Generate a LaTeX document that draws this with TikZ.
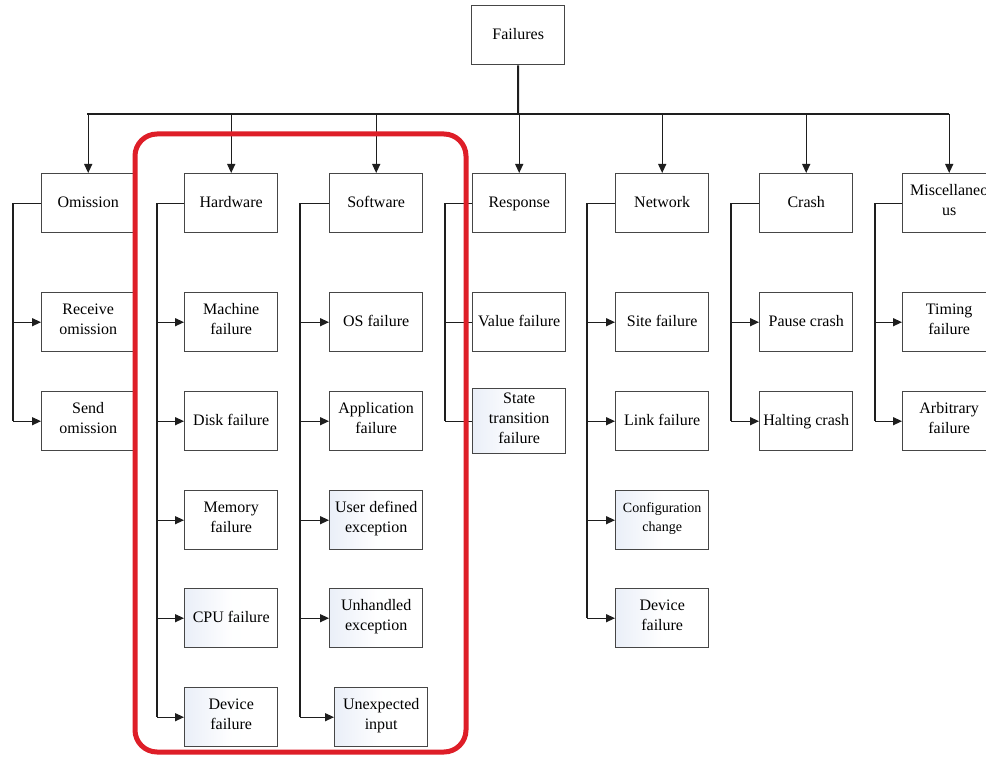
\documentclass[tikz,border=0pt]{standalone}
\usepackage{fontspec}
\setmainfont{Liberation Serif}
\usetikzlibrary{arrows.meta}
\definecolor{boxline}{RGB}{70,70,70}
\definecolor{lineclr}{RGB}{30,30,30}
\definecolor{shadeclr}{RGB}{234,239,248}
\definecolor{redbox}{RGB}{222,30,40}
\tikzset{
  fbox/.style={draw=boxline, line width=1.4pt, fill=white, minimum width=93pt, minimum height=59pt,
     inner sep=1pt, align=center, font=\fontsize{16}{20}\selectfont, anchor=north west,
     execute at begin node=\strut, execute at end node=\strut},
  sbox/.style={fbox, left color=shadeclr, right color=white, middle color=white!97!shadeclr},
  conn/.style={draw=lineclr, line width=1.2pt},
  arr/.style={conn, -{Triangle[length=9pt,width=8pt]}},
}
\begin{document}
\begin{tikzpicture}[x=1pt,y=-1pt]
\useasboundingbox (0,0) rectangle (986,757);
\fill[white] (0,0) rectangle (986,757);
% root
\node[fbox] (root) at (471,5) {Failures};
% categories
\node[fbox] (om) at (41,173) {Omission};
\node[fbox] (hw) at (184,173) {Hardware};
\node[fbox] (sw) at (329,173) {Software};
\node[fbox] (re) at (472,173) {Response};
\node[fbox] (nw) at (615,173) {Network};
\node[fbox] (cr) at (759,173) {Crash};
\node[fbox] (mi) at (902,173) {Miscellaneo\\us};
% bus
\coordinate (j) at (518,114);
\coordinate (bl) at (87,114);
\coordinate (br) at (949,114);
\draw[conn, line width=2pt] (root.south) -- (j);
\draw[conn] (bl) -- (br);
\foreach \n in {om,hw,sw,re,nw,cr,mi}{
  \draw[arr] (\n.north |- j) -- (\n.north);
}
% omission children
\node[fbox] (om1) at (41,292) {Receive\\omission};
\node[fbox] (om2) at (41,391) {Send\\omission};
% hardware children
\node[fbox] (hw1) at (184,292) {Machine\\failure};
\node[fbox] (hw2) at (184,391) {Disk failure};
\node[fbox] (hw3) at (184,490) {Memory\\failure};
\node[sbox] (hw4) at (184,588) {CPU failure};
\node[sbox] (hw5) at (184,687) {Device\\failure};
% software children
\node[fbox] (sw1) at (329,292) {OS failure};
\node[fbox] (sw2) at (329,391) {Application\\failure};
\node[sbox] (sw3) at (329,490) {User defined\\exception};
\node[sbox] (sw4) at (329,588) {Unhandled\\exception};
\node[sbox] (sw5) at (334,687) {Unexpected\\input};
% response children
\node[fbox] (re1) at (472,292) {Value failure};
\node[sbox, minimum height=65pt] (re2) at (472,388) {State\\transition\\failure};
% network children
\node[fbox] (nw1) at (615,292) {Site failure};
\node[fbox] (nw2) at (615,391) {Link failure};
\node[sbox, font=\fontsize{14}{19}\selectfont] (nw3) at (615,490) {Configuration\\change};
\node[sbox] (nw4) at (615,588) {Device\\failure};
% crash children
\node[fbox] (cr1) at (759,292) {Pause crash};
\node[fbox] (cr2) at (759,391) {Halting crash};
% misc children
\node[fbox] (mi1) at (902,292) {Timing\\failure};
\node[fbox] (mi2) at (902,391) {Arbitrary\\failure};
% brackets
\coordinate (bom) at (13,0);
\coordinate (bhw) at (157,0);
\coordinate (bsw) at (300,0);
\coordinate (bre) at (445,0);
\coordinate (bnw) at (587,0);
\coordinate (bcr) at (731,0);
\coordinate (bmi) at (875,0);
\draw[conn] (om.west) -- (bom |- om.west) -- (bom |- om2.west);
\foreach \c in {om1,om2}{ \draw[arr] (bom |- \c.west) -- (\c.west); }
\draw[conn] (hw.west) -- (bhw |- hw.west) -- (bhw |- hw5.west);
\foreach \c in {hw1,hw2,hw3,hw4,hw5}{ \draw[arr] (bhw |- \c.west) -- (\c.west); }
\draw[conn] (sw.west) -- (bsw |- sw.west) -- (bsw |- sw5.west);
\foreach \c in {sw1,sw2,sw3,sw4,sw5}{ \draw[arr] (bsw |- \c.west) -- (\c.west); }
\draw[conn] (re.west) -- (bre |- re.west) -- (bre |- re2.west);
\foreach \c in {re1,re2}{ \draw[conn] (bre |- \c.west) -- (\c.west); }
\draw[conn] (nw.west) -- (bnw |- nw.west) -- (bnw |- nw4.west);
\foreach \c in {nw1,nw2,nw3,nw4}{ \draw[arr] (bnw |- \c.west) -- (\c.west); }
\draw[conn] (cr.west) -- (bcr |- cr.west) -- (bcr |- cr2.west);
\foreach \c in {cr1,cr2}{ \draw[arr] (bcr |- \c.west) -- (\c.west); }
\draw[conn] (mi.west) -- (bmi |- mi.west) -- (bmi |- mi2.west);
\foreach \c in {mi1,mi2}{ \draw[arr] (bmi |- \c.west) -- (\c.west); }
% highlight
\draw[redbox, line width=5pt, rounded corners=22pt] (135,134) rectangle (466,752);
\end{tikzpicture}
\end{document}
